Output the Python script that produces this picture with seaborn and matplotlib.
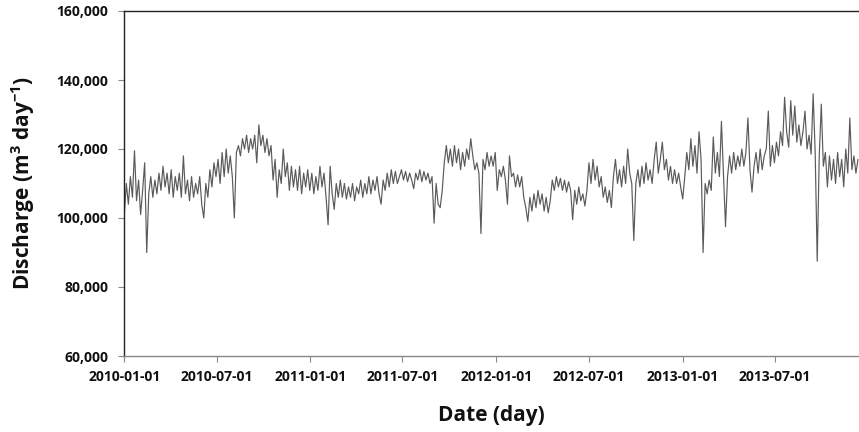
import matplotlib
matplotlib.use("Agg")
import matplotlib.pyplot as plt
import matplotlib.dates as mdates
import seaborn as sns
import numpy as np
import pandas as pd

# Discharge values (m3/day) at ~4-day steps, in thousands
seg_2010a = [101, 110, 104, 112, 106, 119.5, 105, 111, 101, 108, 116, 90, 107, 112, 106,
             111, 107, 113, 108, 115, 109, 113, 107, 114, 106, 112, 108, 113, 106, 118,
             107, 111, 105, 112, 106, 110, 107, 112, 104, 100, 110, 106, 114, 109, 116]
seg_2010b = [112, 117, 110, 119, 112, 120, 113, 118, 112, 100, 119, 121, 118, 123, 120,
             124, 119, 123, 120, 124, 116, 127, 121, 124, 119, 123, 118, 121, 111, 117,
             106, 114, 110, 120, 112, 116, 108, 115, 109, 114, 108, 115, 107, 113, 109]
seg_2011a = [114, 108, 113, 107, 112, 108, 115, 109, 113, 106, 98, 115, 107, 102.5, 110,
             106, 111, 106, 110, 105.5, 109, 106, 110, 105, 109, 107, 111, 106, 110, 107,
             112, 107, 111, 108, 112, 107, 104, 111, 108, 113, 109, 114, 110, 113.5, 110]
seg_2011b = [112, 114, 111, 113.5, 110.5, 113, 111, 108.5, 113, 111, 114, 110.5, 113.5, 111, 113,
             110, 112, 98.5, 110, 104, 103, 108, 116, 121, 116, 120, 115, 121, 116, 120,
             114, 119, 115, 120, 117, 123, 118, 114, 116, 113, 95.5, 117, 114, 119, 115]
seg_2012a = [118, 115, 119, 108, 114, 112, 115, 111, 104, 118, 112, 113, 109, 112.5, 109,
             112, 106, 103, 99, 106, 102, 107, 103, 108, 104, 107, 102, 106, 101.5, 105,
             111, 108, 112, 109, 111.5, 108, 111, 107.5, 110.5, 108, 99.5, 108, 104, 109, 105]
seg_2012b = [107, 103.5, 108, 116, 110, 117, 111, 115, 109, 112, 106, 109, 104.5, 108, 103,
             112, 117, 110, 114, 109, 115, 110, 120, 113, 110, 93.5, 110, 114, 109, 115,
             110, 116, 111, 114, 110, 117, 122, 113, 117, 122, 114, 117, 111, 115, 110]
seg_2013a = [114, 110, 113, 109, 105.5, 112, 119, 114, 123, 115, 121, 113, 125, 117, 90,
             110, 107, 111, 108, 123.5, 113, 119, 112, 128, 113, 97.5, 112, 118, 113, 119,
             114, 118, 115, 120, 115, 119, 129, 114, 107.5, 115, 119, 113, 120, 114, 118]
seg_2013b = [120, 131, 115, 121, 116, 122, 118, 125, 121, 135, 125, 120.5, 134, 124, 132.5,
             122, 127, 121, 125, 131, 120, 124, 118.5, 136, 119, 87.5, 118, 133, 115, 119,
             109, 118, 111, 117, 110, 119, 112, 117, 109, 120, 113, 129, 114, 118, 113, 117]

values_k = (seg_2010a + seg_2010b + seg_2011a + seg_2011b +
            seg_2012a + seg_2012b + seg_2013a + seg_2013b)
dates = pd.date_range("2010-01-01", periods=len(values_k), freq="4D")
df = pd.DataFrame({"date": dates, "discharge": np.array(values_k) * 1000})

tick_dates = ["2010-01-01", "2010-07-01", "2011-01-01", "2011-07-01",
              "2012-01-01", "2012-07-01", "2013-01-01", "2013-07-01"]
y_ticks = [60000, 80000, 100000, 120000, 140000, 160000]

sns.set_style("white")
plt.rcParams["font.family"] = ["Open Sans", "DejaVu Sans"]
plt.rcParams["mathtext.fontset"] = "custom"
plt.rcParams["mathtext.rm"] = "Open Sans"
plt.rcParams["mathtext.bf"] = "Open Sans:bold"

fig = plt.figure(figsize=(8.59, 4.32), dpi=100)
ax = fig.add_axes([124.3 / 859, 76 / 432, 1 - 124.3 / 859, 345 / 432])

sns.lineplot(data=df, x="date", y="discharge", ax=ax, color="#5a5a5a", linewidth=0.85)

ax.set_xlim(pd.Timestamp("2010-01-01"), pd.Timestamp("2013-12-13"))
ax.set_ylim(60000, 160000)
ax.set_xticks(pd.to_datetime(tick_dates))
ax.xaxis.set_major_formatter(mdates.DateFormatter("%Y-%m-%d"))
ax.set_yticks(y_ticks)
ax.set_yticklabels([f"{v:,}" for v in y_ticks])

for lab in ax.get_xticklabels() + ax.get_yticklabels():
    lab.set_fontweight("bold")
    lab.set_fontsize(10)
    lab.set_color("#111111")

ax.tick_params(axis="x", direction="out", length=4, width=0.8, color="#888888", pad=6,
               bottom=True)
ax.tick_params(axis="y", direction="out", length=4.5, width=0.8, color="#888888", pad=7,
               left=True)

ax.spines["right"].set_visible(False)
ax.spines["top"].set_visible(True)
ax.spines["top"].set_color("#222222")
ax.spines["top"].set_linewidth(1.0)
ax.spines["left"].set_color("#222222")
ax.spines["left"].set_linewidth(1.0)
ax.spines["bottom"].set_color("#888888")
ax.spines["bottom"].set_linewidth(1.0)

ax.set_xlabel("Date (day)", fontsize=15, fontweight="bold", labelpad=15, color="#111111")
ax.set_ylabel(r"Discharge (m$^{\mathbf{3}}$ day$^{\mathbf{-1}}$)", fontsize=15,
              fontweight="bold", labelpad=14, color="#111111")

fig.savefig("out.png", dpi=100)
